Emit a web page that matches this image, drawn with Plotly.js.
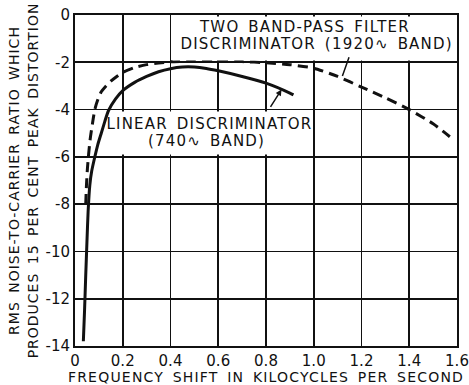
<!DOCTYPE html>
<html>
<head>
<meta charset="utf-8">
<script src="https://cdn.plot.ly/plotly-3.0.1.min.js"></script>
<style>
html,body{margin:0;padding:0;background:#fff;}
#chart{width:469px;height:385px;}
#chart .annotation-text{letter-spacing:1.2px;word-spacing:3px;}
#chart .xtitle{letter-spacing:1.2px;word-spacing:3px;}
#chart .ytitle{letter-spacing:1px;word-spacing:3px;}
</style>
</head>
<body>
<div id="chart"></div>
<script>
// Linear discriminator (740~ band) - solid
const linearX = [0.035, 0.04, 0.045, 0.05, 0.055, 0.062, 0.07, 0.083, 0.095, 0.11, 0.125, 0.14, 0.17, 0.2, 0.25, 0.3, 0.35, 0.4, 0.45, 0.5, 0.55, 0.6, 0.7, 0.8, 0.9, 0.915];
const linearY = [-13.8, -12.5, -11.0, -9.6, -8.3, -7.2, -6.6, -6.0, -5.5, -5.0, -4.5, -4.05, -3.55, -3.2, -2.85, -2.6, -2.4, -2.27, -2.2, -2.2, -2.26, -2.36, -2.6, -2.88, -3.3, -3.38];
// Two band-pass filter discriminator (1920~ band) - dashed
const bandpassX = [0.045, 0.048, 0.052, 0.057, 0.063, 0.07, 0.083, 0.095, 0.11, 0.13, 0.15, 0.175, 0.2, 0.25, 0.3, 0.35, 0.4, 0.5, 0.6, 0.7, 0.8, 0.9, 1.0, 1.1, 1.2, 1.3, 1.4, 1.5, 1.57];
const bandpassY = [-8.0, -7.2, -6.5, -5.9, -5.3, -4.8, -4.0, -3.6, -3.25, -3.0, -2.8, -2.6, -2.43, -2.22, -2.1, -2.03, -1.98, -1.95, -1.95, -1.97, -2.02, -2.1, -2.25, -2.6, -3.05, -3.5, -4.0, -4.6, -5.15];

const xTickVals = [0, 0.2, 0.4, 0.6, 0.8, 1.0, 1.2, 1.4, 1.6];
const xTickText = ["0", "0.2", "0.4", "0.6", "0.8", "1.0", "1.2", "1.4", "1.6"];
const yTickVals = [0, -2, -4, -6, -8, -10, -12, -14];
const yTickText = ["0", "-2", "-4", "-6", "-8", "-10", "-12", "-14"];

const topLabel = ["TWO BAND-PASS FILTER", "DISCRIMINATOR (1920∿ BAND)"];
const midLabel = ["LINEAR DISCRIMINATOR", "(740∿ BAND)"];

const FONT = "DejaVu Sans, Liberation Sans, sans-serif";
const W = 469, H = 385, M = {l: 75, r: 12, t: 15, b: 39};
const plotW = W - M.l - M.r, plotH = H - M.t - M.b;

const traces = [
  {x: linearX, y: linearY, mode: "lines", line: {color: "#111", width: 3, shape: "spline", smoothing: 0.6}, hoverinfo: "skip"},
  {x: bandpassX, y: bandpassY, mode: "lines", line: {color: "#111", width: 3, dash: "10px,6px", shape: "spline", smoothing: 0.6}, hoverinfo: "skip"}
];

const layout = {
  width: W, height: H,
  margin: M,
  paper_bgcolor: "#fff", plot_bgcolor: "#fff",
  showlegend: false,
  font: {family: FONT, color: "#111", size: 14},
  xaxis: {
    range: [0, 1.6], tickvals: xTickVals, ticktext: xTickText,
    showgrid: true, gridcolor: "#111", gridwidth: 1.6,
    // inside ticks spanning the full plot height act as the vertical grid
    ticks: "inside", ticklen: plotH, tickwidth: 1.6, tickcolor: "#111",
    showline: true, linecolor: "#111", linewidth: 2, mirror: true,
    zeroline: false, tickfont: {size: 15}, automargin: false,
    title: {text: "FREQUENCY SHIFT IN KILOCYCLES PER SECOND", font: {size: 14}, standoff: 2}
  },
  yaxis: {
    range: [-14, 0], tickvals: yTickVals, ticktext: yTickText,
    showgrid: true, gridcolor: "#111", gridwidth: 1.6,
    // inside ticks spanning the full plot width act as the horizontal grid
    ticks: "inside", ticklen: plotW, tickwidth: 1.6, tickcolor: "#111",
    showline: true, linecolor: "#111", linewidth: 2, mirror: true,
    zeroline: false, tickfont: {size: 15}, automargin: false,
    title: {text: "RMS NOISE-TO-CARRIER RATIO WHICH<br>PRODUCES 15 PER CENT PEAK DISTORTION", font: {size: 14}, standoff: 4}
  },
  annotations: [
    {x: 1.0, y: -0.99, xref: "x", yref: "y", text: " ", showarrow: false, width: 282, height: 43, bgcolor: "#fff", borderpad: 0},
    {x: 0.565, y: -5.0, xref: "x", yref: "y", text: " ", showarrow: false, width: 198, height: 42, bgcolor: "#fff", borderpad: 0},
    {x: 0.96, y: -0.5, xref: "x", yref: "y", text: topLabel[0], showarrow: false, font: {size: 15}},
    {x: 1.01, y: -1.24, xref: "x", yref: "y", text: topLabel[1], showarrow: false, font: {size: 15}},
    {x: 0.565, y: -4.6, xref: "x", yref: "y", text: midLabel[0], showarrow: false, font: {size: 15}},
    {x: 0.55, y: -5.33, xref: "x", yref: "y", text: midLabel[1], showarrow: false, font: {size: 15}},
    {x: 1.12, y: -2.58, xref: "x", yref: "y", ax: 1.15, ay: -1.72, axref: "x", ayref: "y", text: "", showarrow: true, arrowhead: 0, arrowwidth: 1.5, arrowcolor: "#111"},
    {x: 0.865, y: -3.15, xref: "x", yref: "y", ax: 0.815, ay: -3.95, axref: "x", ayref: "y", text: "", showarrow: true, arrowhead: 2, arrowsize: 0.8, arrowwidth: 1.5, arrowcolor: "#111"}
  ]
};

Plotly.newPlot("chart", traces, layout, {staticPlot: true, displayModeBar: false});
</script>
</body>
</html>
